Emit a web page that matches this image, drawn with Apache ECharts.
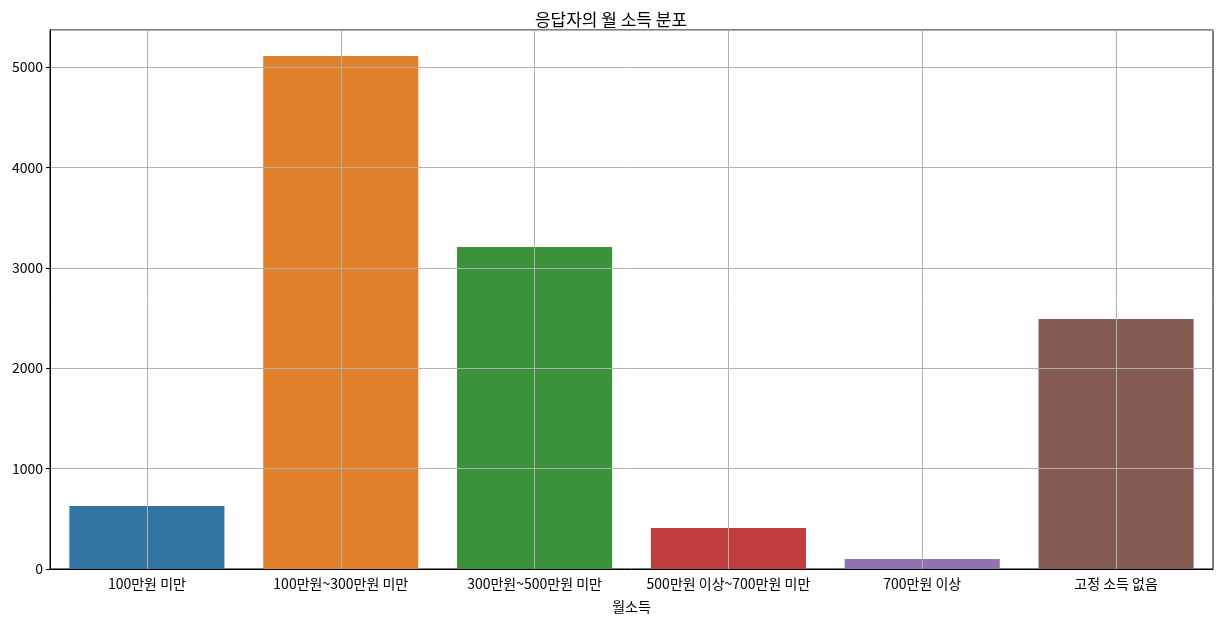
<!DOCTYPE html>
<html>
<head>
<meta charset="utf-8">
<script src="https://cdn.jsdelivr.net/npm/echarts@6/dist/echarts.min.js"></script>
<style>
html,body{margin:0;padding:0;background:#fff;}
#chart{width:1222px;height:622px;}
</style>
</head>
<body>
<div id="chart"></div>
<script>
const categories = ['100만원 미만', '100만원~300만원 미만', '300만원~500만원 미만', '500만원 이상~700만원 미만', '700만원 이상', '고정 소득 없음'];
const counts = [627, 5110, 3207, 408, 100, 2490];
const barColors = ['#3274a1', '#e1812c', '#3a923a', '#c03d3e', '#9372b2', '#845b53'];
const yTicks = [0, 1000, 2000, 3000, 4000, 5000];

const font = '"Noto Sans CJK KR", "Noto Sans", sans-serif';
const chart = echarts.init(document.getElementById('chart'));
chart.setOption({
  animation: false,
  backgroundColor: '#fff',
  title: {
    text: '응답자의 월 소득 분포',
    left: 'center',
    top: 6,
    textStyle: { fontFamily: font, fontSize: 17, fontWeight: 'normal', color: '#000' }
  },
  grid: {
    left: 50, right: 9, top: 30, bottom: 53,
    show: true, borderColor: '#000', borderWidth: 1, z: 0
  },
  xAxis: {
    type: 'category',
    data: categories,
    z: 5,
    name: '월소득',
    nameLocation: 'middle',
    nameGap: 31,
    nameTextStyle: { fontFamily: font, fontSize: 14, color: '#000' },
    axisLine: { lineStyle: { color: '#000', width: 1 } },
    axisTick: { alignWithLabel: true, length: 4, lineStyle: { color: '#000' } },
    axisLabel: { fontFamily: font, fontSize: 14, color: '#000', margin: 8, interval: 0 },
    splitLine: { show: true, alignWithLabel: true, lineStyle: { color: '#b0b0b0', width: 1 } }
  },
  yAxis: {
    type: 'value',
    min: 0,
    max: 5368,
    interval: 1000,
    z: 5,
    axisLine: { show: true, lineStyle: { color: '#000', width: 1 } },
    axisTick: { show: true, length: 4, lineStyle: { color: '#000' } },
    axisLabel: {
      fontFamily: font, fontSize: 14, color: '#000', margin: 7,
      showMaxLabel: false,
      formatter: function (v) { return yTicks.indexOf(v) >= 0 ? String(v) : ''; }
    },
    splitLine: { show: true, lineStyle: { color: '#b0b0b0', width: 1 } }
  },
  series: [{
    type: 'bar',
    data: counts.map(function (v, i) { return { value: v, itemStyle: { color: barColors[i] } }; }),
    barCategoryGap: '20%',
    z: 1
  }]
});
</script>
</body>
</html>
